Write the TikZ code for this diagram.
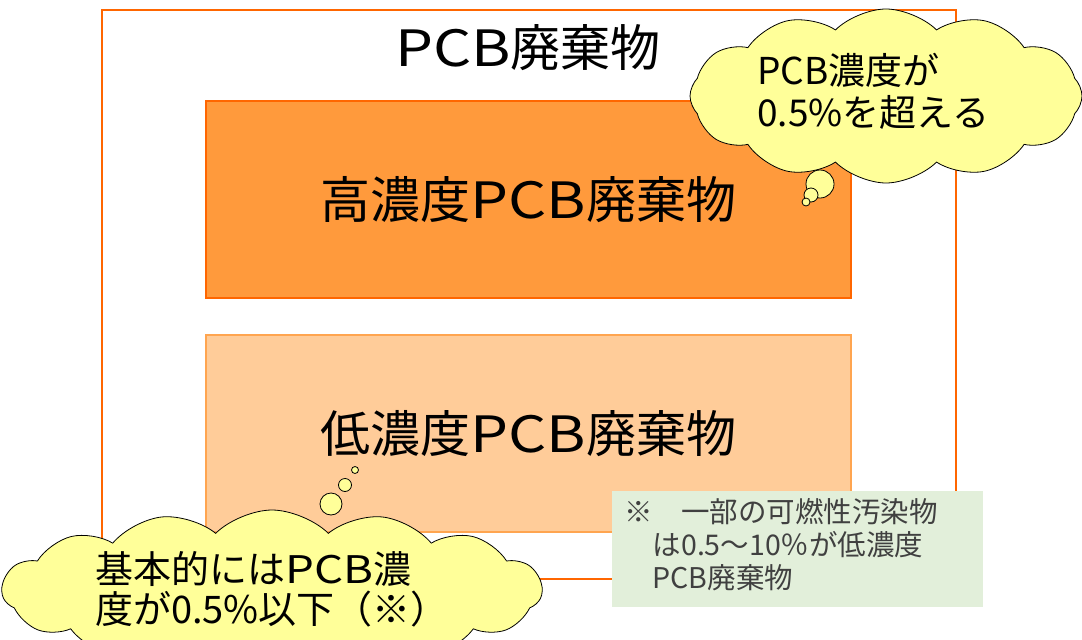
\documentclass[tikz,border=0pt]{standalone}
\usepackage{fontspec}
\setmainfont{Noto Sans CJK JP}
\newfontfamily\habahiro{Noto Sans CJK JP}[FakeStretch=1.2]
\newcommand\pcbmoji{{\habahiro PCB}}
\usetikzlibrary{shapes.symbols}

\tikzset{
  bigbox/.style={rectangle, line width=2pt, minimum width=645pt, minimum height=197pt, inner sep=0pt},
  bigtext/.style={font=\fontsize{50}{54}\selectfont},
  thought/.style={cloud, draw=black, line width=0.8pt, fill=kumo, inner sep=0pt, cloud puff arc=90},
  bubble/.style={circle, draw=black, line width=0.8pt, fill=kumo, inner sep=0pt},
  notetext/.style={font=\fontsize{28.5}{33}\selectfont, text=sumi, align=left, inner sep=0pt}
}

\begin{document}
\begin{tikzpicture}[x=1pt, y=-1pt]
  \definecolor{waku}{HTML}{FF6600}
  \definecolor{koi}{HTML}{FF9A3C}
  \definecolor{usui}{HTML}{FFCC99}
  \definecolor{usuiwaku}{HTML}{FFA550}
  \definecolor{kumo}{HTML}{FFFF99}
  \definecolor{midori}{HTML}{E2EFDA}
  \definecolor{sumi}{HTML}{404040}

  \useasboundingbox (0,0) rectangle (1082,640);
  \clip (0,0) rectangle (1082,640);

  % outer frame and the two classes
  \node[rectangle, draw=waku, fill=white, line width=2pt, minimum width=854pt, minimum height=569pt, anchor=north west] (zentai) at (101,9) {};
  \node[font=\fontsize{50}{54}\selectfont] (zentaimei) at (528,48) {\pcbmoji 廃棄物};

  \node[bigbox, draw=waku, fill=koi, anchor=north west] (koinoudo) at (205,100) {};
  \node[bigtext] at (koinoudo.center) {高濃度\pcbmoji 廃棄物};

  \node[bigbox, draw=usuiwaku, fill=usui, anchor=north west] (teinoudo) at (205,334) {};
  \node[bigtext] at (teinoudo.center) {低濃度\pcbmoji 廃棄物};

  % thought clouds
  \node[thought, cloud puffs=12, minimum width=392pt, minimum height=174pt] (kumo1) at (886,96) {};
  \node[bubble, minimum size=28pt] (awa1) at (820,184) {};
  \node[bubble, minimum size=14pt] (awa2) at (811,195) {};
  \node[bubble, minimum size=8pt] (awa3) at (806,202) {};
  \node[font=\fontsize{37}{42}\selectfont, align=left, anchor=west, inner sep=0pt] (kumomoji1) at (757,91) {PCB濃度が\\0.5\%を超える};

  \node[thought, cloud puffs=15, minimum width=540pt, minimum height=160pt] (kumo2) at (272,590) {};
  \node[bubble, minimum size=22pt] (awa4) at (331,504) {};
  \node[bubble, minimum size=13pt] (awa5) at (345,485) {};
  \node[bubble, minimum size=7pt] (awa6) at (355,470) {};
  \node[font=\fontsize{38}{40}\selectfont, align=left, anchor=west, inner sep=0pt] (kumomoji2) at (95,589) {基本的には\pcbmoji 濃\\度が0.5\%以下（※）};

  % note
  \node[rectangle, fill=midori, minimum width=371pt, minimum height=116pt, anchor=north west] (chuki) at (612,491) {};
  \node[notetext, anchor=north west] (chukimoji) at (624,498) {※　一部の可燃性汚染物\\　は0.5～10％が低濃度\\　PCB廃棄物};
\end{tikzpicture}
\end{document}
